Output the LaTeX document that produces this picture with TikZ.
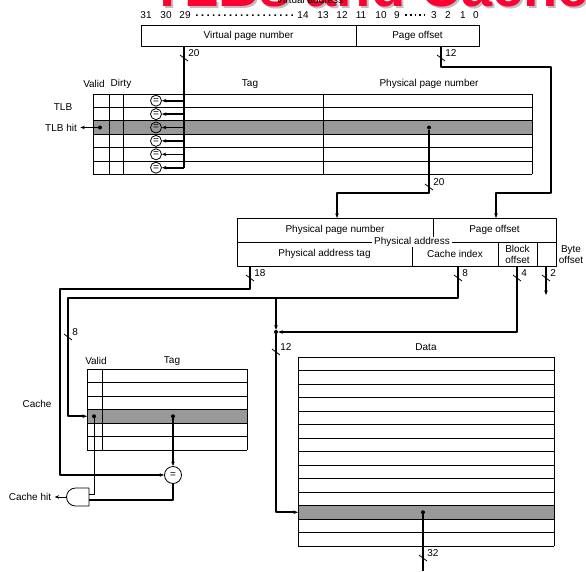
\documentclass[tikz,border=0pt]{standalone}
\usepackage{fontspec}
\setmainfont{Liberation Sans}
\usetikzlibrary{arrows.meta,shapes.gates.logic.US}
\definecolor{titlered}{RGB}{255,0,51}
\begin{document}
\begin{tikzpicture}[x=1pt, y=-1pt, font=\fontsize{10}{11}\selectfont, line join=round, >={Stealth[length=4.5pt,width=3.5pt]}]
	\tikzset{bus/.style={line width=1.6pt}, wire/.style={line width=0.8pt},
		field/.style={draw, line width=0.8pt, inner sep=0pt, align=center},
		cmp/.style={circle, draw, line width=0.8pt, inner sep=0pt, minimum size=#1},
		dot/.style={circle, fill, inner sep=0pt, minimum size=4pt},
		hl/.style={fill=black!40},
		banner/.style={anchor=base west, inner sep=0pt, text depth=0pt, font=\fontsize{56}{56}\selectfont\bfseries}}
	\def\tlbh{13.4} \def\cacheh{13.5} \def\datah{13.5}
	\useasboundingbox (0,0) rectangle (586,571);
	\node[banner, text=black!25] (shadow) at (152,8.5) {TLBs and Cache};
	\node[banner, text=titlered] (title) at (150,6) {TLBs and Cache};
	\node[anchor=base] (va) at (310,3.5) {Virtual address};
	\foreach \n/\x in {31/146,30/166,29/185,14/303,13/323,12/342,11/361,10/381,9/397,3/434,2/448,1/463,0/476}
		\node[anchor=base] (b\n) at (\x,18.6) {\n};
	\draw[line width=1.6pt, dash pattern=on 1.6pt off 4pt, shorten <=2pt] (b29.east) -- (b14.west);
	\draw[line width=1.6pt, dash pattern=on 1.6pt off 3pt, shorten <=2pt] (b9.east) -- (b3.west);
	\node[field, minimum width=215, minimum height=21] (vpn) at (248.5,35.5) {Virtual page number};
	\node[field, minimum width=123, minimum height=21] (voff) at (417.5,35.5) {Page offset};
	% TLB
	\fill[hl] (93,{94+2*\tlbh}) rectangle (532,{94+3*\tlbh});
	\foreach \i in {0,...,6} \draw[wire] (93,{94+\i*\tlbh}) -- (532,{94+\i*\tlbh});
	\foreach \x in {93,109,123,323,532} \draw[wire] (\x,94) -- (\x,{94+6*\tlbh});
	\foreach \txt/\x in {Valid/94,Dirty/121,Tag/250,Physical page number/429} \node (h\x) at (\x,84) {\txt};
	\node (tlb) at (63,107) {TLB};
	\node (hit) at (61,{94+2.5*\tlbh}) {TLB hit};
	\foreach \i in {1,...,6} {
		\node[cmp=11pt] (eq\i) at (156,{94+(\i-0.5)*\tlbh}) {=};
		\coordinate (tap\i) at (184,{94+(\i-0.5)*\tlbh});
		\draw[bus,->] (tap\i) -- (eq\i);
	}
	\coordinate (vpnout) at (184,46);
	\draw[bus] (vpnout) -- (tap6);
	\node[dot] (tv) at (100,{94+2.5*\tlbh}) {};
	\node[dot] (tp) at (429,{94+2.5*\tlbh}) {};
	\draw[wire,->] (tv) -- (hit);
	% physical address
	\node[field, minimum width=196, minimum height=24] (ppn) at (335,230) {Physical page number};
	\node[field, minimum width=123, minimum height=24] (poff) at (494.5,230) {Page offset};
	\node[field, minimum width=175, minimum height=24] (tag) at (324.5,254) {Physical address tag};
	\node[field, minimum width=86, minimum height=24] (idx) at (455,254) {Cache index};
	\node[field, minimum width=39, minimum height=24] (blk) at (517.5,254) {Block\\offset};
	\node[field, minimum width=19, minimum height=24] (byt) at (546.5,254) {};
	\node[fill=white, inner xsep=2pt, inner ysep=0.5pt] (pa) at (412,242) {Physical address};
	\node[align=center] (bo) at (571,254.5) {Byte\\offset};
	\coordinate (ppnin) at (337,218);
	\coordinate (voffout) at (441,46);
	\coordinate (poffin) at (496,218);
	\draw[bus,->] (tp) -- ++(0,65.5) -| (ppnin);
	\draw[bus,->] (voffout) -- ++(0,21) -| ++(110,126) -| (poffin);
	% cache
	\fill[hl] (87,{369+3*\cacheh}) rectangle (247,{369+4*\cacheh});
	\foreach \i in {0,...,6} \draw[wire] (87,{369+\i*\cacheh}) -- (247,{369+\i*\cacheh});
	\foreach \x in {87,102,247} \draw[wire] (\x,369) -- (\x,{369+6*\cacheh});
	\node (cvh) at (96,361) {Valid};
	\node (cth) at (172,361) {Tag};
	\node (cache) at (37,404) {Cache};
	\node[dot] (cv) at (94,{369+3.5*\cacheh}) {};
	\node[dot] (ct) at (173,{369+3.5*\cacheh}) {};
	\node[cmp=17pt] (ceq) at (173,475) {=};
	\node[and gate US, draw, line width=0.8pt, rotate=180, logic gate inputs=nn, minimum width=17, minimum height=18] (and) at (78.5,497) {};
	\node (chit) at (30,497) {Cache hit};
	\draw[bus,->] (ct) -- (ceq);
	\draw[wire] (cv) |- (and.input 2);
	\draw[bus] (ceq) |- (and.input 1);
	\draw[wire,->] (and.output) -- (chit);
	\coordinate (tagout) at (250,266);
	\coordinate (idxout) at (458,266);
	\coordinate (crow) at (87,{369+3.5*\cacheh});
	\draw[bus,->] (tagout) |- (60,289) |- (ceq.west);
	\draw[bus,->] (idxout) |- (68,298) |- (crow);
	% data
	\fill[hl] (298,{357+11*\datah}) rectangle (554,{357+12*\datah});
	\foreach \i in {0,...,14} \draw[wire] (298,{357+\i*\datah}) -- (554,{357+\i*\datah});
	\foreach \x in {298,554} \draw[wire] (\x,357) -- (\x,{357+14*\datah});
	\node (data) at (426,347) {Data};
	\coordinate (br) at (276,298);
	\node[dot] (mrg) at (276,332) {};
	\coordinate (drow) at (298,{357+11.5*\datah});
	\coordinate (blkout) at (517,266);
	\coordinate (bytout) at (546,266);
	\coordinate (bytend) at (546,295);
	\draw[bus,->] (br) -- (mrg);
	\draw[bus,->] (mrg) |- (drow);
	\draw[bus,->] (blkout) |- (mrg);
	\draw[bus,->] (bytout) -- (bytend);
	\node[dot] (dd) at (423,{357+11.5*\datah}) {};
	\coordinate (dout) at (423,571);
	\draw[bus] (dd) -- (dout);
	\foreach \p/\n [count=\k] in {(184,58)/20,(441,58)/12,(429,187)/20,(250,278)/18,(458,278)/8,(517,278)/4,(546,278)/2,(68,337)/8,(276,352)/12,(423,558)/32}
		\draw[wire] \p ++(-4,-3) -- ++(8,6) ++(0,-7.5) node[anchor=west, inner sep=0pt] (w\k) {\n};
\end{tikzpicture}
\end{document}
